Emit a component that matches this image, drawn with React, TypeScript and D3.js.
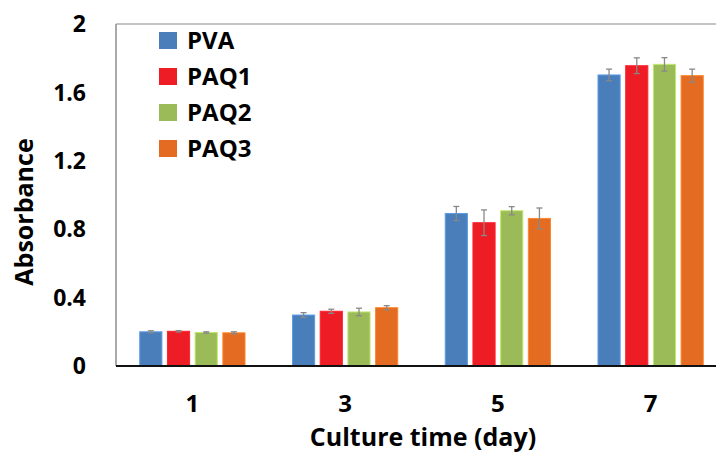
import React from "react";
import * as d3 from "d3";

const categories = ["1", "3", "5", "7"];
const seriesNames = ["PVA", "PAQ1", "PAQ2", "PAQ3"];
const seriesColors = ["#4a7ebb", "#ee1c25", "#9bbb59", "#e46c22"];
const PVA = [0.2, 0.298, 0.892, 1.702];
const PAQ1 = [0.203, 0.32, 0.838, 1.756];
const PAQ2 = [0.196, 0.316, 0.908, 1.764];
const PAQ3 = [0.194, 0.341, 0.863, 1.698];
const PVA_err = [0.006, 0.014, 0.041, 0.034];
const PAQ1_err = [0.004, 0.012, 0.075, 0.046];
const PAQ2_err = [0.004, 0.022, 0.024, 0.039];
const PAQ3_err = [0.006, 0.012, 0.061, 0.038];
const yTicks = [0, 0.4, 0.8, 1.2, 1.6, 2];
const yTickLabels = ["0", "0.4", "0.8", "1.2", "1.6", "2"];

const values = [PVA, PAQ1, PAQ2, PAQ3];
const errors = [PVA_err, PAQ1_err, PAQ2_err, PAQ3_err];

const W = 716;
const H = 457;
const left = 116;
const right = 727;
const top = 24;
const bottom = 366;
const font = "'Open Sans', Lato, sans-serif";

export default function App() {
  const x = d3.scaleBand<string>().domain(categories).range([left, right]).paddingInner(0).paddingOuter(0);
  const y = d3.scaleLinear().domain([0, 2]).range([bottom, top]);
  const groupW = 4 * 27.7;
  const inner = d3
    .scaleBand<string>()
    .domain(seriesNames)
    .range([0, groupW])
    .paddingInner(0.2)
    .paddingOuter(0.1);

  return (
    <svg
      width={W}
      height={H}
      style={{ position: "absolute", left: 0, top: 0, background: "#fff" }}
      fontFamily={font}
    >
      <rect x={0} y={0} width={W} height={H} fill="#fff" />
      {/* plot border */}
      <line x1={left} y1={top} x2={W} y2={top} stroke="#8c8c8c" strokeWidth={1.2} />
      <line x1={left} y1={top} x2={left} y2={bottom} stroke="#8c8c8c" strokeWidth={1.5} />
      {/* bars */}
      {categories.map((c, ci) => {
        const cx = (x(c) as number) + x.bandwidth() / 2;
        const gx = cx - groupW / 2;
        return seriesNames.map((s, si) => {
          const v = values[si][ci];
          const e = errors[si][ci];
          const bx = gx + (inner(s) as number);
          const bw = inner.bandwidth();
          const mx = bx + bw / 2;
          return (
            <g key={c + s}>
              <rect
                x={bx}
                y={y(v)}
                width={bw}
                height={bottom - y(v)}
                fill={seriesColors[si]}
                stroke={d3.color(seriesColors[si])!.brighter(0.6).formatHex()}
                strokeWidth={1}
              />
              <line x1={mx} x2={mx} y1={y(v + e)} y2={y(v - e)} stroke="#888" strokeWidth={1.3} />
              <line x1={mx - 3} x2={mx + 3} y1={y(v + e)} y2={y(v + e)} stroke="#888" strokeWidth={1.3} />
              <line x1={mx - 3} x2={mx + 3} y1={y(v - e)} y2={y(v - e)} stroke="#888" strokeWidth={1.3} />
            </g>
          );
        });
      })}
      {/* x axis */}
      <line x1={left} y1={bottom} x2={W} y2={bottom} stroke="#111" strokeWidth={1.8} />
      {categories.map((c) => (
        <text
          key={c}
          x={(x(c) as number) + x.bandwidth() / 2}
          y={412}
          textAnchor="middle"
          fontSize={24}
          fontWeight={700}
          fill="#000"
        >
          {c}
        </text>
      ))}
      <text x={423} y={446} textAnchor="middle" fontSize={25} fontWeight={700} fill="#000">
        Culture time (day)
      </text>
      {/* y axis labels */}
      {yTicks.map((t, i) => (
        <text
          key={t}
          x={86}
          y={y(t)}
          dy="0.36em"
          textAnchor="end"
          fontSize={23}
          fontWeight={700}
          fill="#000"
        >
          {yTickLabels[i]}
        </text>
      ))}
      <text
        transform={`translate(33,212) rotate(-90)`}
        textAnchor="middle"
        fontSize={25}
        fontWeight={700}
        fill="#000"
      >
        Absorbance
      </text>
      {/* legend */}
      {seriesNames.map((s, i) => (
        <g key={s} transform={`translate(159,${32 + i * 36})`}>
          <rect x={0} y={0} width={18} height={17} fill={seriesColors[i]} />
          <text x={28} y={17} fontSize={24} fontWeight={700} fill="#000">
            {s}
          </text>
        </g>
      ))}
    </svg>
  );
}
